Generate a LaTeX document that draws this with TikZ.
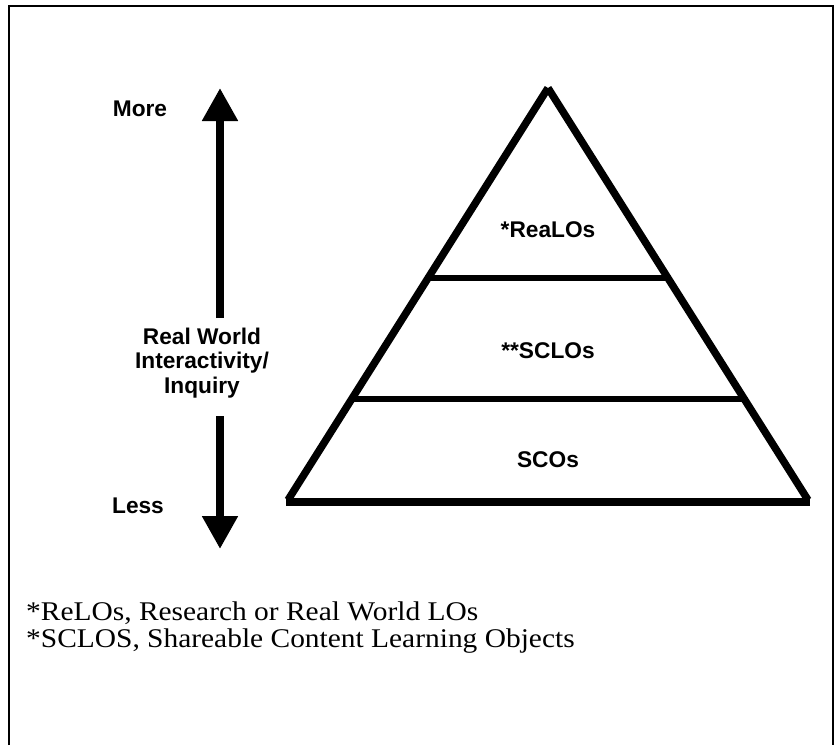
\documentclass[tikz,border=0pt]{standalone}
\usepackage{fontspec}
\setmainfont{Liberation Serif}
\setsansfont{Liberation Sans}
\usetikzlibrary{arrows.meta, positioning, calc}

\begin{document}
\begin{tikzpicture}[
    x=1pt, y=-1pt,
    lvl/.style={font=\sffamily\bfseries\fontsize{22.7}{24.5}\selectfont, align=center, inner sep=0pt},
    note/.style={font=\rmfamily\fontsize{27}{26}\selectfont, inner sep=0pt, anchor=base west,
                 xscale=1.09, transform shape},
    side/.style={line width=7.5pt},
    shelf/.style={line width=6pt},
    arr/.style={-{Triangle[length=33pt, width=34pt]}, line width=8pt}
]
\useasboundingbox (0,0) rectangle (836,745);
\draw[line width=1.5pt] (9,745) -- (9,6) -- (833,6) -- (833,745);

% pyramid
\coordinate (apex) at (548,88);
\coordinate (bl) at (288,500);
\coordinate (br) at (808,500);
\draw[side] (bl) -- (apex);
\draw[side] (apex) -- (br);
\draw[line width=8pt] ($(bl)+(-2,2)$) -- ($(br)+(2,2)$);
\draw[shelf] ($(apex)!0.461!(bl)$) -- ($(apex)!0.461!(br)$);
\draw[shelf] ($(apex)!0.755!(bl)$) -- ($(apex)!0.755!(br)$);

\node[lvl] (realos) at (548,230) {*ReaLOs};
\node[lvl] (sclos) at (548,351) {**SCLOs};
\node[lvl] (scos) at (548,460) {SCOs};

% interactivity scale
\node[lvl] (inq) at (202,363) {Real World\\Interactivity/\\Inquiry};
\node[lvl] (more) at (140,109) {More};
\node[lvl] (less) at (138,506) {Less};
\coordinate (hi) at (220,88);
\coordinate (lo) at (220,549);
\draw[arr] ($(inq.north -| hi)+(0,-9.5)$) -- (hi);
\draw[arr] ($(inq.south -| lo)+(0,18)$) -- (lo);

% footnotes
\node[note] (fn1) at (26,620) {*ReLOs, Research or Real World LOs};
\node[note] (fn2) at (26,647) {*SCLOS, Shareable Content Learning Objects};
\end{tikzpicture}
\end{document}
